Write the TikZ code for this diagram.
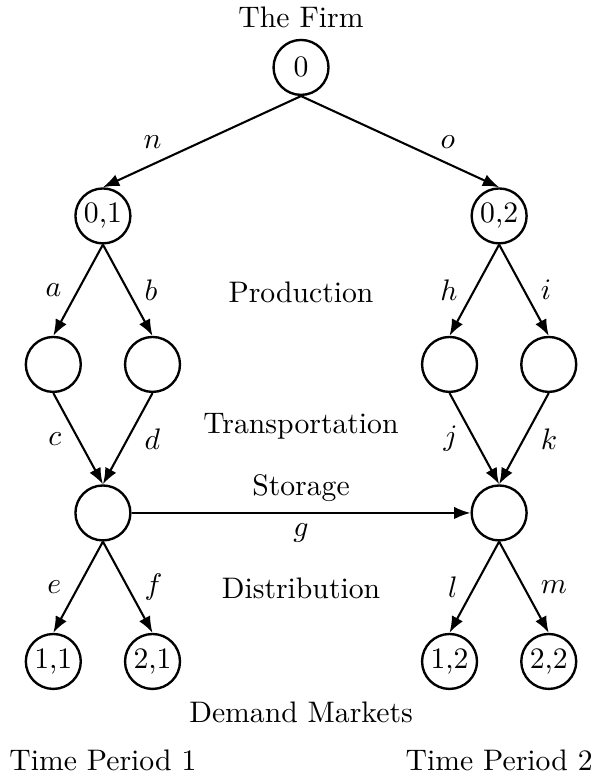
\documentclass[tikz,border=0pt]{standalone}
\usepackage{amsmath, amsfonts, amssymb}
\usepackage{xcolor}
\usepackage{tikz}
\usetikzlibrary{arrows.meta}

\begin{document}
\begin{tikzpicture}[x=1pt,y=1pt,
  netnode/.style={circle,draw,line width=0.8pt,minimum size=18.5pt,inner sep=1pt},
  flow/.style={line width=0.7pt,-{Latex[length=5.5pt,width=4.2pt]}}]
\useasboundingbox (-101.35,22.7) rectangle (100,-238.9);

\node[netnode] (n0) at (0,0) {0};
\node[above] (firm) at (n0.north) {The Firm};
\node[netnode] (n01) at (-66.7,-50) {0,1};
\node[netnode] (n02) at (66.7,-50) {0,2};

\node[netnode] (m11) at (-83.4,-100) {};
\node[netnode] (m21) at (-50,-100) {};
\node[netnode] (m12) at (50,-100) {};
\node[netnode] (m22) at (83.4,-100) {};

\node[netnode] (w1) at (-66.7,-150) {};
\node[netnode] (w2) at (66.7,-150) {};

\node[netnode] (r11) at (-83.4,-200) {1,1};
\node[netnode] (r21) at (-50,-200) {2,1};
\node[netnode] (r12) at (50,-200) {1,2};
\node[netnode] (r22) at (83.4,-200) {2,2};

\draw[flow] (n0.south) -- node[left=10pt] {$n$} (n01.north);
\draw[flow] (n0.south) -- node[right=10pt] {$o$} (n02.north);

\draw[flow] (n01.south) -- node[left=2pt] {$a$} (m11.north);
\draw[flow] (n01.south) -- node[right=2pt] {$b$} (m21.north);
\draw[flow] (n02.south) -- node[left=2pt] {$h$} (m12.north);
\draw[flow] (n02.south) -- node[right=2pt] {$i$} (m22.north);

\draw[flow] (m11.south) -- node[left=2pt] {$c$} (w1.north);
\draw[flow] (m21.south) -- node[right=2pt] {$d$} (w1.north);
\draw[flow] (m12.south) -- node[left=2pt] {$j$} (w2.north);
\draw[flow] (m22.south) -- node[right=2pt] {$k$} (w2.north);

\draw[flow] (w1.east) -- node[above] {Storage} node[below] {$g$} (w2.west);

\draw[flow] (w1.south) -- node[left=2pt] {$e$} (r11.north);
\draw[flow] (w1.south) -- node[right=2pt] {$f$} (r21.north);
\draw[flow] (w2.south) -- node[left=2pt] {$l$} (r12.north);
\draw[flow] (w2.south) -- node[right=2pt] {$m$} (r22.north);

\node (prod) at (0,-75.6) {Production};
\node (trans) at (0,-121) {Transportation};
\node (dist) at (0,-175.3) {Distribution};
\node (dem) at (0,-217) {Demand Markets};
\node (tp1) at (-66.7,-233.2) {Time Period 1};
\node (tp2) at (66.7,-233.2) {Time Period 2};

\end{tikzpicture}
\end{document}
